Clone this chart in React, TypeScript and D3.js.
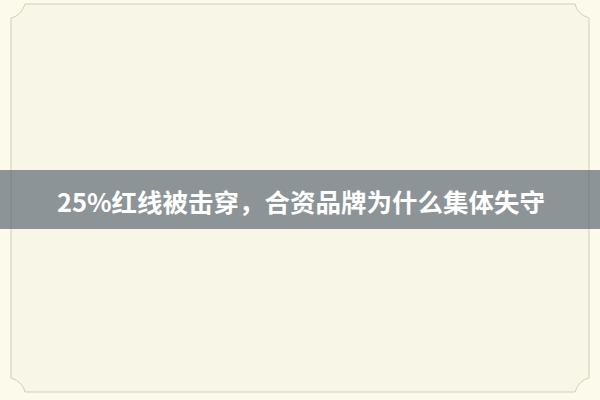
import React from "react";
import * as d3 from "d3";

const TITLE = "25%红线被击穿，合资品牌为什么集体失守";
const FRAME = { left: 11, top: 4, right: 589, bottom: 392, notch: 14 };
const BAND = { top: 170, bottom: 229 };

export default function App() {
  const W = 600, H = 400;
  const { left, top, right, bottom, notch } = FRAME;
  const p = d3.path();
  p.moveTo(left + notch, top);
  p.lineTo(right - notch, top);
  p.quadraticCurveTo(right - notch + 2, top + notch - 4, right, top + notch);
  p.lineTo(right, bottom - notch);
  p.quadraticCurveTo(right - notch + 4, bottom - notch + 2, right - notch, bottom);
  p.lineTo(left + notch, bottom);
  p.quadraticCurveTo(left + notch - 2, bottom - notch + 4, left, bottom - notch);
  p.lineTo(left, top + notch);
  p.quadraticCurveTo(left + notch - 4, top + notch - 2, left + notch, top);
  p.closePath();

  return (
    <svg width={W} height={H} style={{ position: "absolute", left: 0, top: 0 }}>
      <rect x={0} y={0} width={W} height={H} fill="#fcfbeb" />
      <path d={p.toString()} fill="#f8f7e7" stroke="#cfcfb4" strokeWidth={1} />
      <rect x={0} y={BAND.top} width={W} height={BAND.bottom - BAND.top} fill="#8d9497" />
      <line x1={left} x2={left} y1={BAND.top} y2={BAND.bottom} stroke="#7c8484" strokeWidth={1} />
      <line x1={right} x2={right} y1={BAND.top} y2={BAND.bottom} stroke="#7c8484" strokeWidth={1} />
      <text
        x={W / 2 + 1}
        y={(BAND.top + BAND.bottom) / 2 + 1}
        textAnchor="middle"
        dominantBaseline="central"
        fill="#ffffff"
        fontFamily="'Noto Sans CJK SC', 'Noto Sans', sans-serif"
        fontWeight="bold"
        fontSize={25.5}
      >
        {TITLE}
      </text>
    </svg>
  );
}
